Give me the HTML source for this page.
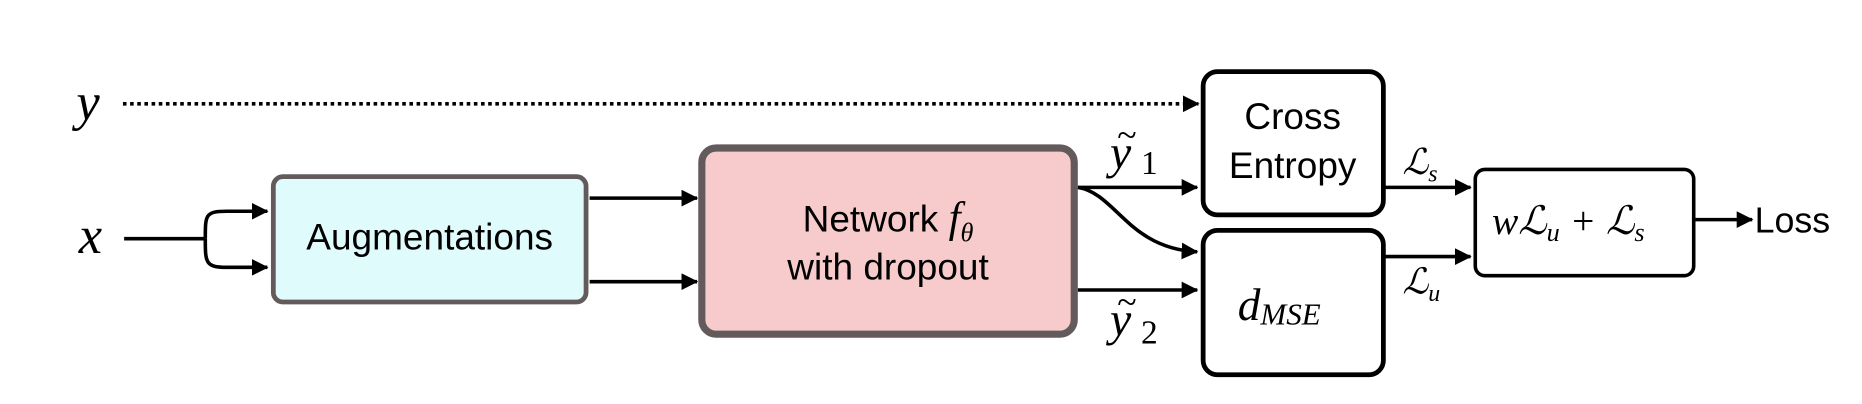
<!DOCTYPE html>
<html><head><meta charset="utf-8"><style>
html,body{margin:0;padding:0;background:#fff;width:1862px;height:404px;overflow:hidden}
svg{display:block}
.s{font-family:"Liberation Sans",sans-serif;fill:#000}
.m{font-family:"Liberation Serif",serif;font-style:italic;fill:#000}
.r{font-family:"Liberation Serif",serif;fill:#000}
</style></head><body>
<svg width="1862" height="404" viewBox="0 0 1560 338.5" preserveAspectRatio="none">
<defs><marker id="a" markerWidth="8" markerHeight="8" refX="7" refY="4" orient="auto" markerUnits="userSpaceOnUse"><path d="M0,0 L8,4 L0,8 z" fill="#000"/></marker>
<marker id="b" markerWidth="14" markerHeight="14" refX="13" refY="7" orient="auto" markerUnits="userSpaceOnUse"><path d="M0,0 L14,7 L0,14 z" fill="#000"/></marker></defs>
<g stroke="#000" stroke-width="3" fill="none">
<line x1="103" y1="87" x2="1004" y2="87" stroke-dasharray="3,3" marker-end="url(#b)"/>
<line x1="104" y1="200" x2="172" y2="200"/>
<path d="M172,200 C172,180 172,177 190,177 L224,177" marker-end="url(#b)"/>
<path d="M172,200 C172,220 172,224 190,224 L224,224" marker-end="url(#b)"/>
<line x1="494" y1="166" x2="584" y2="166" marker-end="url(#b)"/>
<line x1="494" y1="236" x2="584" y2="236" marker-end="url(#b)"/>
<line x1="903" y1="157" x2="1003" y2="157" marker-end="url(#b)"/>
<path d="M903,157 C935,162 945,208 1003,211" marker-end="url(#b)"/>
<line x1="903" y1="243" x2="1003" y2="243" marker-end="url(#b)"/>
<line x1="1160" y1="157" x2="1232" y2="157" marker-end="url(#b)"/>
<line x1="1160" y1="215" x2="1232" y2="215" marker-end="url(#b)"/>
<line x1="1420" y1="184" x2="1468" y2="184" marker-end="url(#b)"/>
</g>
<rect x="229" y="148" width="262" height="105" rx="8" fill="#e0fbfc" stroke="#635b5b" stroke-width="4"/>
<rect x="588" y="124" width="312" height="156" rx="12" fill="#f7cbcb" stroke="#635b5b" stroke-width="6"/>
<rect x="1008" y="60" width="151" height="120" rx="12" fill="#fff" stroke="#000" stroke-width="4"/>
<rect x="1008" y="193" width="151" height="121" rx="12" fill="#fff" stroke="#000" stroke-width="4"/>
<rect x="1236" y="142" width="183" height="89" rx="8" fill="#fff" stroke="#000" stroke-width="3"/>
<text class="m" x="64" y="100" font-size="44">y</text>
<text class="m" x="66" y="212" font-size="44">x</text>
<text class="s" x="360" y="209" font-size="31" text-anchor="middle">Augmentations</text>
<text class="s" x="744" y="194" font-size="31" text-anchor="middle">Network <tspan class="m" font-size="36">f</tspan><tspan class="m" font-size="22" dy="8">θ</tspan></text>
<text class="s" x="744" y="234" font-size="31" text-anchor="middle">with dropout</text>
<text class="m" x="930" y="141" font-size="40">y</text><text class="r" x="936" y="123" font-size="30">~</text><text class="r" x="956" y="146" font-size="28">1</text>
<text class="m" x="930" y="281" font-size="40">y</text><text class="r" x="936" y="263" font-size="30">~</text><text class="r" x="956" y="288" font-size="28">2</text>
<text class="s" x="1083" y="108" font-size="31" text-anchor="middle">Cross</text>
<text class="s" x="1083" y="149" font-size="31" text-anchor="middle">Entropy</text>
<text class="m" x="1037" y="268" font-size="38">d<tspan class="r" font-size="26" dy="4">MSE</tspan></text>
<text class="m" x="1175" y="146" font-size="30">ℒ<tspan font-size="20" dy="6">s</tspan></text>
<text class="m" x="1175" y="246" font-size="30">ℒ<tspan font-size="20" dy="6">u</tspan></text>
<text class="m" x="1250" y="196" font-size="33">wℒ<tspan font-size="22" dy="6">u</tspan><tspan class="r" font-size="33" dy="-6"> + </tspan>ℒ<tspan font-size="22" dy="6">s</tspan></text>
<text class="s" x="1470" y="195" font-size="30">Loss</text>
</svg>
</body></html>
